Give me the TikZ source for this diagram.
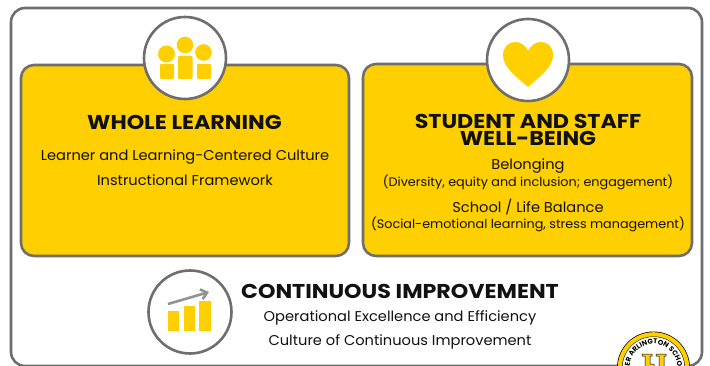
\documentclass[tikz,border=0pt]{standalone}
\usepackage{fontspec}
\setmainfont{Poppins}
\newfontfamily\ttlfont[FakeStretch=1.11,BoldFont={Poppins Bold}]{Poppins SemiBold}
\newfontfamily\subfont[FakeStretch=1.03]{Poppins}
\usetikzlibrary{decorations.text,arrows.meta}
\definecolor{gold}{HTML}{FFCF00}
\definecolor{frame}{HTML}{6E6E6E}
\definecolor{txt}{HTML}{111111}
\tikzset{
 x=1pt,y=-1pt,
 card/.style={draw=frame,line width=2.6pt,fill=gold,rounded corners=13pt},
 badge/.style={draw=frame,line width=2.6pt,fill=white,circle,minimum size=82pt,inner sep=0pt},
 ttl/.style={font=\ttlfont\bfseries\fontsize{20}{17}\selectfont,text=txt,align=center,inner sep=0pt,anchor=base},
 sub/.style={font=\subfont\fontsize{14.2}{16}\selectfont,text=txt,align=center,inner sep=0pt,anchor=base},
 small/.style={font=\subfont\fontsize{12.4}{14}\selectfont,text=txt,align=center,inner sep=0pt,anchor=base},
 ico/.style={fill=gold,draw=none},
 mono/.style={fill=gold,draw=black,line width=0.5pt},
}
\begin{document}
\begin{tikzpicture}
\useasboundingbox (0,0) rectangle (710,366);
\clip (0,0) rectangle (710,366);
\fill[white] (0,0) rectangle (710,366);
\draw[frame,line width=2.6pt,rounded corners=14pt,fill=white] (11,8) rectangle (702,366);
\draw[card] (21,65) rectangle (349,256);
\draw[card] (363,64) rectangle (692,256);
% badges
\node[badge] (b1) at (185,58) {};
\node[badge] (b2) at (528,60) {};
\node[badge,minimum size=83pt] (b3) at (190,312) {};
% people icon
\fill[ico] (166.5,54) circle (8.5);
\fill[ico] (185,45) circle (8.3);
\fill[ico] (203.5,52.5) circle (8.3);
\fill[ico,rounded corners=1pt] (160,64) rectangle (174,79);
\fill[ico,rounded corners=1pt] (178,56) rectangle (192.5,79);
\fill[ico,rounded corners=1pt] (197,64) rectangle (211,79);
% heart
\fill[ico] (528,87) .. controls (518,78) and (503,68) .. (503,55)
 .. controls (503,47) and (509,42) .. (515,42)
 .. controls (521,42) and (525,45) .. (528,51)
 .. controls (531,45) and (536,42) .. (541,42)
 .. controls (548,42) and (553,47) .. (553,55)
 .. controls (553,68) and (538,78) .. (528,87) -- cycle;
% chart
\fill[ico] (168,311) rectangle (179,331);
\fill[ico] (184,306) rectangle (195,331);
\fill[ico] (199,301) rectangle (211,331);
\draw[draw=gray!85,line width=2.6pt,-{Straight Barb[length=6pt,width=10pt]}] (168,304) -- (209,292);
% text
\node[ttl] (t1) at (184.5,129.5) {WHOLE LEARNING};
\node[sub] (s1) at (185,161) {Learner and Learning-Centered Culture};
\node[sub] (s2) at (185,186) {Instructional Framework};
\node[ttl] (t2) at (528,128.5) {STUDENT AND STAFF};
\node[ttl] (t2b) at (528,145.5) {WELL-BEING};
\node[sub] (s3) at (528,170) {Belonging};
\node[small] (s4) at (528,187) {(Diversity, equity and inclusion; engagement)};
\node[sub] (s5) at (528,212.5) {School / Life Balance};
\node[small] (s6) at (528,229) {(Social-emotional learning, stress management)};
\node[ttl] (t3) at (400,299) {CONTINUOUS IMPROVEMENT};
\node[sub] (s7) at (400,322) {Operational Excellence and Efficiency};
\node[sub] (s8) at (400,345) {Culture of Continuous Improvement};
% logo
\fill[black] (653.5,368) circle (36.5);
\fill[gold] (653.5,368) circle (35.8);
\fill[black] (653.5,368) circle (31.5);
\fill[white] (653.5,368) circle (31);
\path[postaction={decorate,decoration={text along path,text align=center,
  text={|\fontsize{7}{8}\selectfont\bfseries|UPPER ARLINGTON SCHOOLS}}}]
  (653.5,392) .. controls (640.25,392) and (629.5,381.25) .. (629.5,368)
  .. controls (629.5,354.75) and (640.25,344) .. (653.5,344)
  .. controls (666.75,344) and (677.5,354.75) .. (677.5,368)
  .. controls (677.5,381.25) and (666.75,392) .. (653.5,392);
\draw[mono] (642,354) -- (652,354) -- (652,356) -- (650,356) -- (650,364) -- (654,364) -- (654,368) -- (642,368) -- (645,366) -- (645,356) -- (642,356) -- cycle;
\draw[mono] (656,354) -- (666,354) -- (666,356) -- (664,356) -- (664,368) -- (657,368) -- (659,366) -- (659,356) -- (656,356) -- cycle;
\end{tikzpicture}
\end{document}
